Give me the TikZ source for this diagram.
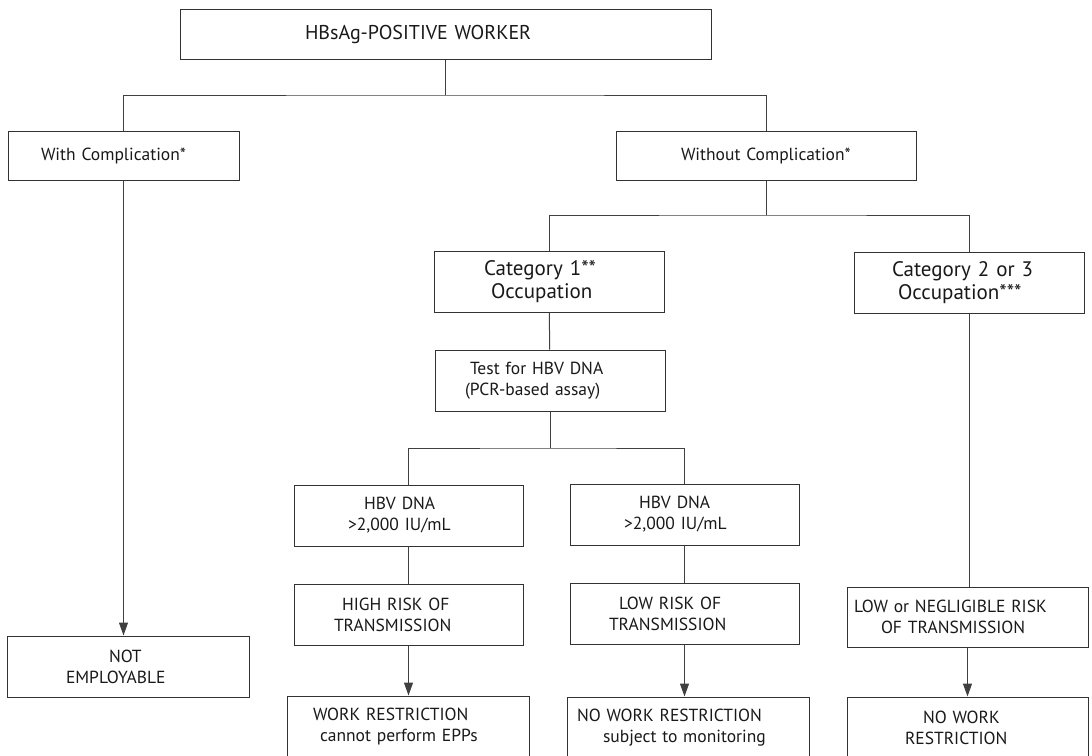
\documentclass[tikz,border=0pt]{standalone}
\usepackage{fontspec}
\setmainfont{PT Sans}
\usetikzlibrary{arrows.meta}
\tikzset{
  box/.style={draw=black!80, line width=1pt, inner sep=0pt, align=left, text=black!90,
    font=\fontsize{17.5}{21}\selectfont},
  big/.style={font=\fontsize{21}{23}\selectfont},
  head/.style={font=\fontsize{20}{22}\selectfont},
  boxsize/.style 2 args={minimum width=#1pt, minimum height=#2pt, text width=#1pt},
  link/.style={draw=black!75, line width=1pt},
  arr/.style={link, -{Triangle[length=13pt,width=9pt]}}
}

\begin{document}
\begin{tikzpicture}[x=1pt,y=-1pt]
\useasboundingbox (0,0) rectangle (1092,755);
\clip (0,0) rectangle (1092,755);
% first level
\node[box, head, boxsize={531}{50}] (worker) at (445.5,34) {\hspace*{125pt}HBsAg-POSITIVE WORKER};
\node[box, boxsize={231}{49}] (withc) at (123.5,155.5) {\hspace*{33pt}With Complication*};
\node[box, boxsize={300}{49}] (woc) at (766,155.5) {\hspace*{65pt}Without Complication*};
% occupations
\node[box, big, boxsize={230}{61}] (cat1) at (549,281.5) {\hspace*{50pt}Category 1**\\\hspace*{57pt}Occupation};
\node[box, big, boxsize={230}{61}] (cat2) at (969,282.5) {\hspace*{38pt}Category 2 or 3\\\hspace*{44pt}Occupation***};
\node[box, boxsize={230}{61}] (test) at (550,380.5) {\hspace*{35pt}Test for HBV DNA\\\hspace*{30pt}(PCR-based assay)};
% test results
\node[box, boxsize={229}{61}] (dna1) at (408.5,515.5) {\hspace*{70pt}HBV DNA\\\hspace*{54pt}>2,000 IU/mL};
\node[box, boxsize={229}{61}] (dna2) at (684.5,514.5) {\hspace*{69pt}HBV DNA\\\hspace*{54pt}>2,000 IU/mL};
\node[box, boxsize={229}{61}] (high) at (408.5,614.5) {\hspace*{48pt}HIGH RISK OF\\\hspace*{40pt}TRANSMISSION};
\node[box, boxsize={229}{61}] (low) at (684.5,613.5) {\hspace*{49pt}LOW RISK OF\\\hspace*{39pt}TRANSMISSION};
\node[box, boxsize={241}{60}] (lowneg) at (967.5,617) {\hspace*{7pt}LOW or NEGLIGIBLE RISK\\\hspace*{34pt}OF TRANSMISSION};
% outcomes
\node[box, boxsize={242}{61}] (notemp) at (128,666.5) {\hspace*{102pt}NOT\\\hspace*{59pt}EMPLOYABLE};
\node[box, boxsize={242}{61}] (wr) at (408,726.5) {\hspace*{26pt}WORK RESTRICTION\\\hspace*{33pt}cannot perform EPPs};
\node[box, boxsize={242}{61}] (nwr) at (688,727.5) {\hspace*{10pt}NO WORK RESTRICTION\\\hspace*{36pt}subject to monitoring};
\node[box, boxsize={241}{61}] (nowork) at (967.5,727.5) {\hspace*{76pt}NO WORK\\\hspace*{58pt}RESTRICTION};
%
\coordinate (j1) at (445.5,95);
\coordinate (j2) at (766,215);
\coordinate (j3) at (550,448);
\draw[link] (worker) -- (j1);
\draw[link] (withc) |- (j1) -| (woc);
\draw[link] (woc) -- (j2);
\draw[link] (cat1) |- (j2) -| (cat2);
\draw[link] (cat1) -- (test);
\draw[link] (test) -- (j3);
\draw[link] (dna1) |- (j3) -| (dna2);
\draw[link] (dna1) -- (high);
\draw[link] (dna2) -- (low);
\draw[link] (cat2) -- (cat2 |- lowneg.north);
%
\draw[arr] (withc) -- (withc |- notemp.north);
\draw[arr] (high) -- (high |- wr.north);
\draw[arr] (low) -- (low |- nwr.north);
\draw[arr] (lowneg) -- (lowneg |- nowork.north);
\end{tikzpicture}
\end{document}
